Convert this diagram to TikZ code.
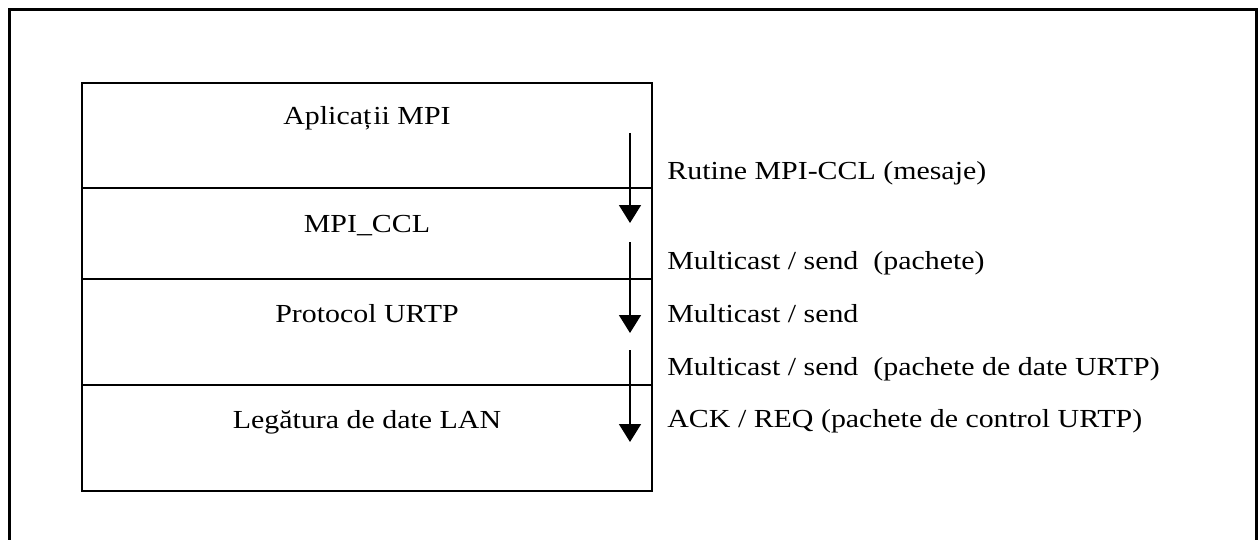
\documentclass[tikz,border=0pt]{standalone}
\usepackage{fontspec}
\setmainfont{Liberation Serif}[FakeStretch=1.15]
\usetikzlibrary{arrows.meta}
\begin{document}
\begin{tikzpicture}[x=0.5pt,y=-0.5pt,
  layer/.style={draw, line width=1pt, rectangle, minimum width=285pt, inner sep=0pt, outer sep=0pt},
  ltext/.style={anchor=base, inner sep=0pt, font=\fontsize{13pt}{15pt}\selectfont},
  rtext/.style={anchor=base west, inner sep=0pt, font=\fontsize{13pt}{15pt}\selectfont},
  flow/.style={line width=0.8pt, -{Triangle[width=11pt,length=9pt]}}]
\useasboundingbox (0,0) rectangle (1259,540);
% outer frame, open at the bottom
\draw[line width=1.6pt] (9.5,560) -- (9.5,9.5) -- (1256.5,9.5) -- (1256.5,560);
% protocol stack
\node[layer, minimum height=52.5pt] (l1) at (367,135.5) {};
\node[layer, minimum height=45.5pt] (l2) at (367,233.5) {};
\node[layer, minimum height=53pt] (l3) at (367,332) {};
\node[layer, minimum height=53pt] (l4) at (367,438) {};
\node[ltext] (t1) at (367,125) {Aplicaț\kern1pt ii MPI};
\node[ltext] (t2) at (367,232) {MPI\_CCL};
\node[ltext] (t3) at (367,322) {Protocol URTP};
\node[ltext] (t4) at (367,428) {Legătura de date LAN};
% flow arrows between the layers
\coordinate (a1s) at (630,133);
\coordinate (a1e) at (630,223);
\coordinate (a2s) at (630,242);
\coordinate (a2e) at (630,333);
\coordinate (a3s) at (630,350);
\coordinate (a3e) at (630,442);
\draw[flow] (a1s) -- (a1e);
\draw[flow] (a2s) -- (a2e);
\draw[flow] (a3s) -- (a3e);
% interface labels
\node[rtext] (r1) at (667,179) {Rutine MPI-CCL (mesaje)};
\node[rtext] (r2) at (667,270) {Multicast / send~~(pachete)};
\node[rtext] (r3) at (667,322) {Multicast / send};
\node[rtext] (r4) at (667,375) {Multicast / send~~(pachete de date URTP)};
\node[rtext] (r5) at (667,427) {ACK / REQ (pachete de control URTP)};
\end{tikzpicture}
\end{document}
